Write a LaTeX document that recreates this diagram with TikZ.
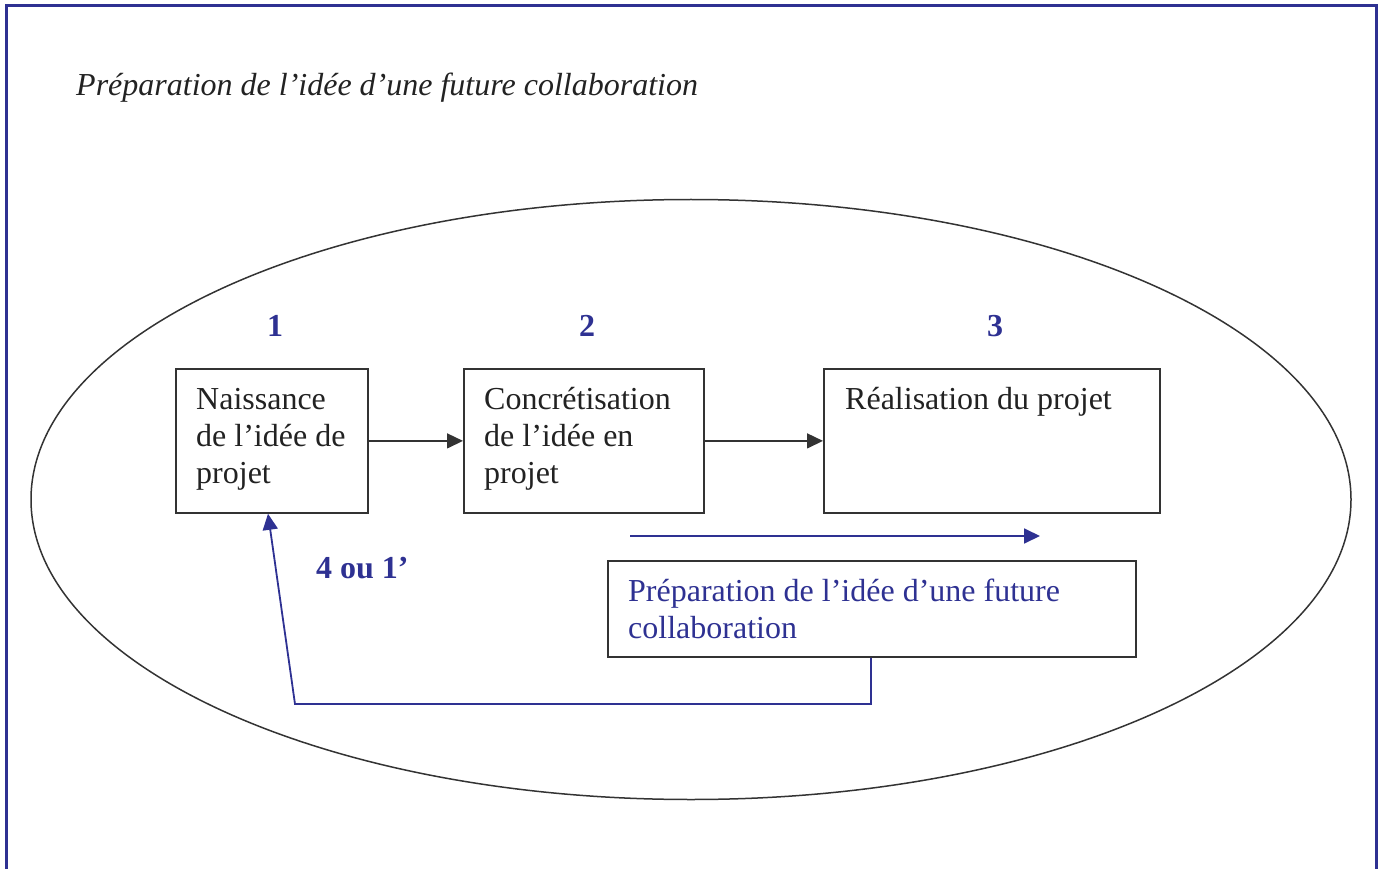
\documentclass[tikz,border=0pt]{standalone}
\usepackage{fontspec}
\setmainfont{Liberation Serif}
\usetikzlibrary{arrows.meta}
\definecolor{dblue}{RGB}{46,49,146}
\definecolor{dgray}{RGB}{51,51,51}
\definecolor{txt}{RGB}{34,34,34}
\begin{document}
\begin{tikzpicture}[x=1pt,y=-1pt,
  boxn/.style={draw=dgray,line width=1.8pt,minimum width=#1,inner sep=0,anchor=north west},
  txtn/.style={inner sep=0,anchor=north west,align=left,text=txt,font=\fontsize{32}{37}\selectfont},
  numn/.style={inner sep=0,anchor=base,text=dblue,font=\fontsize{32}{37}\selectfont\bfseries},
  blk/.style={draw=dgray,line width=1.5pt,-{Triangle[length=16pt,width=15pt]}},
  blu/.style={draw=dblue,line width=1.8pt,-{Triangle[length=16pt,width=15pt]}}]
\useasboundingbox (0,0) rectangle (1382,869);
% frame
\draw[dblue,line width=3pt] (6,900) -- (6,6) -- (1376,6) -- (1376,900);
% title
\node[inner sep=0,anchor=base west,text=txt,font=\fontsize{32}{37}\selectfont\itshape] (title) at (76,96) {Préparation de l’idée d’une future collaboration};
% ellipse
\draw[dgray,line width=1.5pt] (691,499.5) ellipse [x radius=660, y radius=300];
% boxes
\node[boxn=192pt,minimum height=144pt] (b1) at (175,368) {};
\node[boxn=240pt,minimum height=144pt] (b2) at (463,368) {};
\node[boxn=336pt,minimum height=144pt] (b3) at (823,368) {};
\node[boxn=528pt,minimum height=96pt] (b4) at (607,560) {};
% texts
\node[txtn] (t1) at (196,383) {\strut Naissance\\de l’idée de\\projet};
\node[txtn] (t2) at (484,383) {\strut Concrétisation\\de l’idée en\\projet};
\node[txtn] (t3) at (845,383) {\strut Réalisation du projet};
\node[txtn,text=dblue] (t4) at (628,575) {\strut Préparation de l’idée d’une future\\collaboration};
% numbers
\node[numn] (n1) at (275,336) {1};
\node[numn] (n2) at (587,336) {2};
\node[numn] (n3) at (995,336) {3};
\node[numn,anchor=base west] (n4) at (316,578) {4 ou 1’};
% arrows
\draw[blk] (b1.east) -- (b2.west);
\draw[blk] (b2.east) -- (b3.west);
\coordinate (p1) at (630,536);
\coordinate (p2) at (1040,536);
\draw[blu] (p1) -- (p2);
\coordinate (q1) at (871,704);
\coordinate (q2) at (295,704);
\coordinate (q3) at (268,512);
\draw[blu] (b4.south west -| q1) -- (q1) -- (q2) -- (b1.south west -| q3);
\end{tikzpicture}
\end{document}
